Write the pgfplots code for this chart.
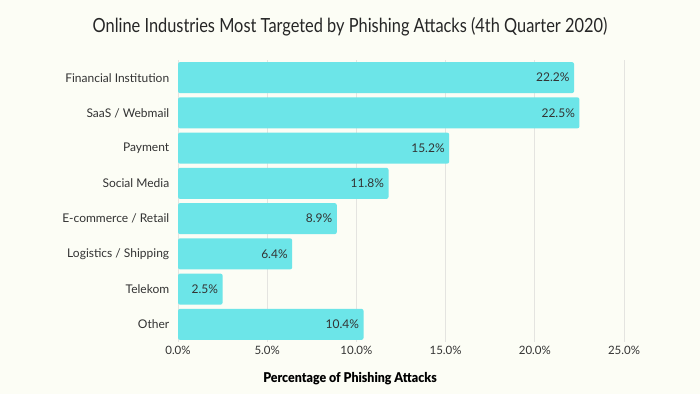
\documentclass[border=0pt]{standalone}
\usepackage{pgfplots}
\pgfplotsset{compat=1.18}
\usepackage{fontspec}
\setmainfont{Lato}
\newfontfamily\titlefont[FakeStretch=0.84]{Lato}
\newfontfamily\boldfont[FakeStretch=0.92]{Lato Black}
\definecolor{bg}{HTML}{FCFDF5}
\definecolor{barc}{HTML}{6CE5E8}
\definecolor{gridc}{HTML}{E4E4E0}
\definecolor{txt}{HTML}{333333}
\begin{document}
\begin{tikzpicture}
\fill[bg] (0pt,0pt) rectangle (700pt,394pt);
\node[font=\titlefont\fontsize{19.5}{22}\selectfont, text=black!85] at (350pt,367pt) {Online Industries Most Targeted by Phishing Attacks (4th Quarter 2020)};
\node[font=\boldfont\fontsize{13.5}{15}\selectfont, text=black] at (350pt,15pt) {Percentage of Phishing Attacks};
\begin{axis}[
  at={(178pt,52pt)}, anchor=south west,
  scale only axis, width=446pt, height=282pt,
  xbar, bar width=31pt,
  xmin=0, xmax=25, ymin=-0.5, ymax=7.5, y dir=reverse,
  axis line style={draw=none},
  xtick={0,5,10,15,20,25},
  xticklabels={0.0\%,5.0\%,10.0\%,15.0\%,20.0\%,25.0\%},
  ytick={0,...,7},
  yticklabels={Financial Institution,SaaS / Webmail,Payment,Social Media,E-commerce / Retail,Logistics / Shipping,Telekom,Other},
  tick style={draw=none},
  xmajorgrids, major grid style={gridc, line width=0.8pt},
  ticklabel style={font=\fontsize{11.5}{13}\selectfont, text=txt},
  yticklabel style={font=\fontsize{12}{14}\selectfont, xshift=-1pt},
  xticklabel style={yshift=-1pt},
  nodes near coords={\pgfmathprintnumber[fixed,fixed zerofill,precision=1,assume math mode=true]{\pgfplotspointmeta}\%},
  every node near coord/.append style={anchor=east, xshift=-1pt, font=\fontsize{12}{14}\selectfont, text=txt},
  point meta=x,
  clip=false,
]
\addplot[fill=barc, draw=none, rounded corners=2pt] coordinates {
(22.2,0) (22.5,1) (15.2,2) (11.8,3) (8.9,4) (6.4,5) (2.5,6) (10.4,7)};
\end{axis}
\end{tikzpicture}
\end{document}
